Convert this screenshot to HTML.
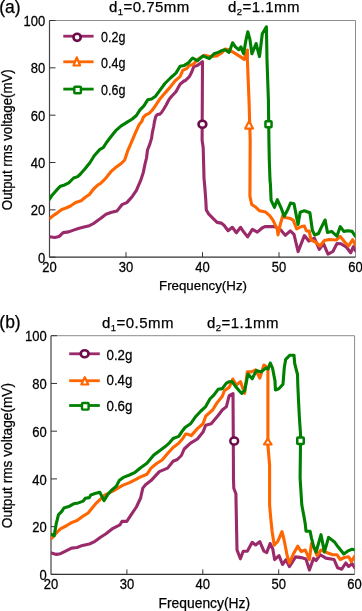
<!DOCTYPE html>
<html><head><meta charset="utf-8"><style>
html,body{margin:0;padding:0;background:#fff;}
svg{display:block;will-change:transform;}
text{font-family:"Liberation Sans",sans-serif;fill:#000;stroke:#000;stroke-width:0.25px;}
.t{font-size:13px;}
.lg{font-size:13.6px;}
.ti{font-size:15px;letter-spacing:0.45px;}
.sub{font-size:9.5px;}
.pl{font-size:17.5px;}
.ax{font-size:13.3px;}
</style></head><body>
<svg width="362" height="611" viewBox="0 0 362 611">
<defs><filter id="soft" x="-5%" y="-5%" width="110%" height="110%"><feGaussianBlur stdDeviation="0.4"/></filter><filter id="soft2" x="-20%" y="-20%" width="140%" height="140%"><feGaussianBlur stdDeviation="0.3"/></filter></defs>
<defs><clipPath id="clip20"><rect x="49.5" y="20.5" width="306.00" height="236.70"/></clipPath></defs>
<line x1="49.5" y1="20.5" x2="355.5" y2="20.5" stroke="#8c8c8c" stroke-width="1"/>
<line x1="355.5" y1="20.5" x2="355.5" y2="257.2" stroke="#8c8c8c" stroke-width="1"/>
<line x1="49.5" y1="20.5" x2="49.5" y2="257.2" stroke="#444" stroke-width="1.2"/>
<line x1="49.5" y1="257.2" x2="355.5" y2="257.2" stroke="#333" stroke-width="1.2"/>
<line x1="49.5" y1="257.20" x2="55.5" y2="257.20" stroke="#333" stroke-width="1"/>
<text transform="translate(45.2,262.80) scale(1,1.07)" text-anchor="end" class="t">0</text>
<line x1="49.5" y1="209.86" x2="55.5" y2="209.86" stroke="#333" stroke-width="1"/>
<text transform="translate(45.2,215.46) scale(1,1.07)" text-anchor="end" class="t">20</text>
<line x1="49.5" y1="162.52" x2="55.5" y2="162.52" stroke="#333" stroke-width="1"/>
<text transform="translate(45.2,168.12) scale(1,1.07)" text-anchor="end" class="t">40</text>
<line x1="49.5" y1="115.18" x2="55.5" y2="115.18" stroke="#333" stroke-width="1"/>
<text transform="translate(45.2,120.78) scale(1,1.07)" text-anchor="end" class="t">60</text>
<line x1="49.5" y1="67.84" x2="55.5" y2="67.84" stroke="#333" stroke-width="1"/>
<text transform="translate(45.2,73.44) scale(1,1.07)" text-anchor="end" class="t">80</text>
<line x1="49.5" y1="20.50" x2="55.5" y2="20.50" stroke="#333" stroke-width="1"/>
<text transform="translate(45.2,26.10) scale(1,1.07)" text-anchor="end" class="t">100</text>
<text transform="translate(49.50,272.00) scale(1,1.07)" text-anchor="middle" class="t">20</text>
<line x1="126.00" y1="257.2" x2="126.00" y2="252.2" stroke="#333" stroke-width="1"/>
<text transform="translate(126.00,272.00) scale(1,1.07)" text-anchor="middle" class="t">30</text>
<line x1="202.50" y1="257.2" x2="202.50" y2="252.2" stroke="#333" stroke-width="1"/>
<text transform="translate(202.50,272.00) scale(1,1.07)" text-anchor="middle" class="t">40</text>
<line x1="279.00" y1="257.2" x2="279.00" y2="252.2" stroke="#333" stroke-width="1"/>
<text transform="translate(279.00,272.00) scale(1,1.07)" text-anchor="middle" class="t">50</text>
<text transform="translate(355.50,272.00) scale(1,1.07)" text-anchor="middle" class="t">60</text>
<g clip-path="url(#clip20)"><g filter="url(#soft)" fill="none" stroke-width="3.1" stroke-linejoin="round" stroke-linecap="round">
<polyline points="49.4,236.8 54.9,237.5 59.0,236.5 63.2,232.6 68.7,231.9 74.2,229.9 78.4,228.5 83.9,227.1 89.4,225.7 93.6,223.5 98.0,220.2 100.5,218.5 106.0,214.3 111.6,212.3 117.1,210.9 121.9,204.7 126.8,202.6 129.5,199.6 132.3,196.4 136.4,190.4 140.6,180.7 143.3,172.4 145.0,164.1 146.5,158.0 147.5,150.0 149.9,143.9 151.6,138.1 152.4,132.3 153.7,126.5 154.5,121.6 155.7,116.6 157.4,114.5 159.9,114.1 161.5,112.5 163.8,109.0 166.3,104.8 169.0,99.5 171.9,96.0 175.9,91.8 180.1,84.2 184.2,80.7 185.0,80.9 189.4,76.6 191.6,72.2 193.8,66.6 197.2,65.5 200.5,63.3 202.5,61.7 202.1,140.0 203.2,147.7 203.8,170.0 204.0,178.3 204.9,188.0 205.8,200.4 206.3,210.0 208.8,214.1 213.0,218.3 217.1,222.4 221.2,223.1 224.0,225.2 228.1,230.7 232.3,227.3 236.4,232.8 240.6,227.3 242.8,230.7 247.6,236.9 252.4,229.3 257.3,232.1 262.1,228.0 264.9,226.6 274.5,226.6 280.1,229.3 285.3,235.3 290.3,230.8 294.0,234.3 298.1,251.6 304.4,235.6 308.8,241.0 314.4,238.2 319.3,249.3 323.5,243.7 328.0,254.2 332.9,251.5 337.0,243.5 341.0,243.8 346.5,247.3 350.7,252.8 353.4,246.6 355.5,250.7" stroke="#9b2c6b"/>
<polyline points="49.4,218.8 53.5,215.4 57.7,212.6 61.8,209.5 66.0,208.0 70.5,206.0 75.6,202.5 81.1,200.7 85.3,197.3 89.4,194.5 93.6,189.0 98.0,184.9 100.5,183.5 105.4,178.6 110.9,171.7 116.4,166.9 121.2,163.5 124.7,160.0 127.5,151.4 131.6,141.8 135.7,132.1 139.2,124.5 141.7,121.6 143.3,117.4 145.8,114.9 149.1,113.3 152.4,110.0 155.3,105.8 159.3,99.8 164.9,93.1 170.4,86.9 175.2,80.7 180.1,76.6 182.8,70.4 187.0,68.3 189.1,65.6 193.3,64.2 198.8,58.6 204.3,55.2 209.9,56.6 216.8,55.9 222.3,52.4 225.0,49.0 229.1,49.7 234.7,53.1 240.2,56.6 244.3,59.4 247.4,50.0 247.4,60.0 249.0,100.0 250.2,140.0 249.9,196.2 251.7,204.5 255.9,207.3 259.3,210.7 265.6,212.1 269.7,215.6 273.1,220.4 277.3,229.3 278.0,234.9 280.1,225.2 282.8,215.5 285.0,217.5 290.5,218.5 293.3,220.4 296.7,229.0 301.5,226.5 304.4,226.0 306.4,231.0 309.2,231.0 311.0,240.0 315.5,242.0 320.0,246.0 324.4,240.5 329.0,239.5 336.2,240.0 340.3,236.5 345.1,242.5 348.6,245.9 352.7,239.7 355.5,245.2" stroke="#ff6600"/>
<polyline points="49.4,199.4 52.1,195.2 56.3,190.4 60.4,186.2 64.6,184.9 68.7,182.8 73.6,178.0 77.7,176.6 80.0,174.5 84.4,169.5 89.7,163.0 94.4,155.5 99.9,149.4 103.2,147.7 106.5,142.5 110.5,137.2 115.7,130.7 121.2,125.9 126.8,122.4 132.3,119.0 136.4,115.5 140.0,109.8 143.9,105.8 147.7,99.8 151.6,98.9 155.5,96.2 159.3,91.1 164.9,83.5 170.4,78.0 175.9,73.1 180.1,66.2 184.2,65.5 185.0,64.9 188.5,62.8 192.6,58.0 197.4,60.7 203.0,55.9 209.2,58.6 214.0,53.8 218.1,52.4 222.3,50.4 225.0,49.7 229.1,52.5 232.6,42.8 235.4,46.9 238.8,49.7 240.9,46.9 243.6,53.8 245.7,41.4 247.8,31.7 249.9,39.3 251.9,53.8 256.1,43.5 259.5,56.6 262.3,33.8 266.4,26.9 267.0,60.0 268.4,100.0 268.9,140.0 269.3,160.0 270.0,180.0 270.4,183.8 271.1,200.4 274.5,207.3 277.3,199.7 281.4,208.7 284.2,216.3 287.8,209.5 290.5,203.1 294.0,203.8 296.7,217.6 298.1,224.5 300.2,212.1 304.3,210.7 309.9,212.8 312.4,230.5 314.7,235.0 318.5,233.5 321.2,227.6 325.1,220.0 327.5,232.5 331.6,231.4 336.9,236.2 340.3,226.6 343.8,231.4 347.9,230.7 352.1,231.4 355.5,236.5" stroke="#008000"/>
</g></g>
<g filter="url(#soft2)">
<ellipse cx="202.4" cy="124.3" rx="3.9" ry="3.5" fill="#fff" stroke="#6c0a48" stroke-width="2.6"/>
<polygon points="249.1,121.0 253.0,128.6 245.2,128.6" fill="#fff" stroke="#ff6600" stroke-width="2.1" stroke-linejoin="round"/>
<rect x="265.45" y="121.15" width="6.1" height="6.1" rx="0.8" fill="#fff" stroke="#008000" stroke-width="2.5"/>
</g>
<g filter="url(#soft2)"><line x1="63.3" y1="36.2" x2="93.6" y2="36.2" stroke="#9b2c6b" stroke-width="2.8"/>
<ellipse cx="77.1" cy="37.3" rx="3.6" ry="3.6" fill="#fff" stroke="#6c0a48" stroke-width="2.6"/></g>
<text transform="translate(101,41.6) scale(0.92,1.07)" class="lg">0.2g</text>
<g filter="url(#soft2)"><line x1="63.3" y1="61.8" x2="93.6" y2="61.8" stroke="#ff6600" stroke-width="2.8"/>
<polygon points="76.8,57.3 80.1,65.5 73.5,65.5" fill="#fff" stroke="#ff6600" stroke-width="2.2" stroke-linejoin="round"/></g>
<text transform="translate(101,67.5) scale(0.92,1.07)" class="lg">0.4g</text>
<g filter="url(#soft2)"><line x1="63.3" y1="89.1" x2="93.6" y2="89.1" stroke="#008000" stroke-width="2.8"/>
<rect x="74.30" y="86.70" width="6.6" height="6.6" rx="0.8" fill="#fff" stroke="#008000" stroke-width="2.4"/></g>
<text transform="translate(101,94.6) scale(0.92,1.07)" class="lg">0.6g</text>
<text x="109" y="11.8" class="ti">d<tspan class="sub" dy="2.8">1</tspan><tspan dy="-2.8">=0.75mm</tspan></text>
<text x="228" y="11.8" class="ti">d<tspan class="sub" dy="2.8">2</tspan><tspan dy="-2.8">=1.1mm</tspan></text>
<text x="-0.8" y="12.6" class="pl">(a)</text>
<text x="203.0" y="290.2" text-anchor="middle" style="font-size:13.3px">Frequency(Hz)</text>
<text transform="translate(11.7,139.7) rotate(-90) scale(1,1.06)" text-anchor="middle" style="font-size:13.3px">Output rms voltage(mV)</text>
<defs><clipPath id="clip335"><rect x="51" y="335.7" width="303.60" height="238.70"/></clipPath></defs>
<line x1="51" y1="335.7" x2="354.6" y2="335.7" stroke="#8c8c8c" stroke-width="1"/>
<line x1="354.6" y1="335.7" x2="354.6" y2="574.4" stroke="#8c8c8c" stroke-width="1"/>
<line x1="51" y1="335.7" x2="51" y2="574.4" stroke="#444" stroke-width="1.2"/>
<line x1="51" y1="574.4" x2="354.6" y2="574.4" stroke="#333" stroke-width="1.2"/>
<line x1="51" y1="574.40" x2="57" y2="574.40" stroke="#333" stroke-width="1"/>
<text transform="translate(46.7,580.00) scale(1,1.07)" text-anchor="end" class="t">0</text>
<line x1="51" y1="526.66" x2="57" y2="526.66" stroke="#333" stroke-width="1"/>
<text transform="translate(46.7,532.26) scale(1,1.07)" text-anchor="end" class="t">20</text>
<line x1="51" y1="478.92" x2="57" y2="478.92" stroke="#333" stroke-width="1"/>
<text transform="translate(46.7,484.52) scale(1,1.07)" text-anchor="end" class="t">40</text>
<line x1="51" y1="431.18" x2="57" y2="431.18" stroke="#333" stroke-width="1"/>
<text transform="translate(46.7,436.78) scale(1,1.07)" text-anchor="end" class="t">60</text>
<line x1="51" y1="383.44" x2="57" y2="383.44" stroke="#333" stroke-width="1"/>
<text transform="translate(46.7,389.04) scale(1,1.07)" text-anchor="end" class="t">80</text>
<line x1="51" y1="335.70" x2="57" y2="335.70" stroke="#333" stroke-width="1"/>
<text transform="translate(46.7,341.30) scale(1,1.07)" text-anchor="end" class="t">100</text>
<text transform="translate(51.00,589.20) scale(1,1.07)" text-anchor="middle" class="t">20</text>
<line x1="126.90" y1="574.4" x2="126.90" y2="569.4" stroke="#333" stroke-width="1"/>
<text transform="translate(126.90,589.20) scale(1,1.07)" text-anchor="middle" class="t">30</text>
<line x1="202.80" y1="574.4" x2="202.80" y2="569.4" stroke="#333" stroke-width="1"/>
<text transform="translate(202.80,589.20) scale(1,1.07)" text-anchor="middle" class="t">40</text>
<line x1="278.70" y1="574.4" x2="278.70" y2="569.4" stroke="#333" stroke-width="1"/>
<text transform="translate(278.70,589.20) scale(1,1.07)" text-anchor="middle" class="t">50</text>
<text transform="translate(354.60,589.20) scale(1,1.07)" text-anchor="middle" class="t">60</text>
<g clip-path="url(#clip335)"><g filter="url(#soft)" fill="none" stroke-width="3.1" stroke-linejoin="round" stroke-linecap="round">
<polyline points="51.5,553.0 56.3,554.4 60.4,553.7 64.6,551.6 71.5,548.1 77.0,547.5 82.5,545.4 89.4,544.0 95.0,541.3 100.5,537.3 106.0,533.8 113.0,528.3 119.9,524.9 121.9,521.4 126.8,521.4 130.9,515.2 136.4,507.0 140.6,498.0 142.8,488.1 145.5,484.7 151.0,480.6 159.3,471.6 167.6,468.1 173.1,461.2 177.3,459.5 181.4,455.5 184.2,449.0 190.5,443.1 197.4,439.0 203.0,432.1 205.7,425.2 211.2,423.8 218.1,415.5 222.3,410.0 226.4,406.6 229.2,395.6 233.0,393.5 233.3,441.0 233.5,480.0 233.8,488.3 235.9,493.8 236.6,530.0 237.0,549.9 240.4,558.8 243.2,551.2 247.3,551.2 252.2,542.3 255.6,545.0 259.8,541.6 263.9,551.2 266.7,552.6 270.1,543.5 272.8,549.0 274.6,559.6 279.0,555.6 282.5,564.5 286.0,559.7 289.4,566.6 295.6,556.9 301.1,557.6 306.0,559.0 309.4,570.1 313.6,558.3 316.1,560.5 320.3,554.7 325.8,558.1 334.1,559.5 337.6,567.8 341.7,569.2 345.8,563.0 348.6,566.4 352.1,563.7 354.8,567.8" stroke="#9b2c6b"/>
<polyline points="51.5,538.5 56.3,533.0 60.4,528.8 66.0,526.0 71.5,522.6 77.0,520.5 82.5,516.5 88.1,513.0 92.2,508.0 96.3,503.1 100.5,499.2 104.7,495.1 110.2,492.3 115.7,489.5 122.6,485.4 129.5,482.6 136.4,479.2 140.0,477.1 146.9,474.3 151.0,468.1 156.6,463.5 162.1,460.0 167.6,453.5 173.1,447.5 178.7,443.3 182.8,438.5 185.6,434.0 188.3,434.3 191.2,435.6 197.4,428.6 203.0,423.8 205.7,416.2 212.6,410.0 216.8,403.1 222.3,396.2 224.4,390.7 229.2,387.3 232.8,379.0 236.3,385.1 240.4,381.6 244.6,393.3 247.3,371.9 251.5,371.9 255.6,369.9 259.8,378.1 263.9,365.0 267.9,367.8 267.9,445.0 269.6,465.0 269.6,505.0 270.8,518.8 272.1,531.2 274.2,545.1 277.7,541.5 282.0,531.6 283.9,539.0 287.3,556.2 289.4,563.1 293.6,553.5 297.7,546.2 301.1,551.5 305.3,550.0 309.4,559.5 311.5,543.5 314.2,548.0 317.0,555.5 321.0,550.0 327.9,553.0 332.7,554.7 336.9,554.7 340.3,559.5 344.5,557.5 348.6,556.8 351.4,561.6 354.8,556.1" stroke="#ff6600"/>
<polyline points="51.5,534.3 54.2,535.7 56.3,523.3 57.7,518.0 58.4,514.9 61.8,511.4 63.9,508.0 68.7,506.6 73.6,503.8 78.4,502.9 83.2,501.1 85.3,498.3 89.4,497.6 90.8,494.9 95.0,493.6 99.8,492.3 101.9,496.4 104.0,500.6 107.4,495.1 111.6,490.2 116.4,486.1 119.2,480.6 124.0,477.1 129.5,475.0 135.1,472.3 140.3,468.0 146.9,463.3 153.8,455.0 159.3,450.9 164.9,446.8 169.7,442.6 173.1,438.5 178.7,436.4 181.4,432.3 185.0,427.5 190.5,423.8 196.0,416.2 200.9,411.0 205.7,406.6 209.9,399.0 214.0,394.9 218.1,389.3 222.3,388.6 226.4,383.1 229.2,381.7 232.1,381.6 235.6,386.4 239.0,390.6 241.8,393.3 244.6,390.6 248.0,374.0 252.2,378.8 256.3,370.6 261.1,371.9 266.0,368.0 268.1,369.0 270.3,363.0 272.5,368.0 275.0,380.9 275.4,390.0 278.8,388.8 283.0,384.2 284.3,367.6 285.7,359.3 289.9,355.2 294.0,355.2 294.7,363.5 297.5,374.5 297.8,385.0 298.5,400.0 299.4,418.0 300.6,435.0 300.1,478.0 301.8,505.0 303.9,516.0 305.3,524.3 306.0,531.2 310.1,531.2 311.5,538.1 313.6,546.4 316.1,552.0 321.0,534.7 324.4,551.9 328.6,537.4 334.8,542.3 338.2,547.1 343.8,554.0 348.6,550.6 352.1,549.2 355.5,549.9" stroke="#008000"/>
</g></g>
<g filter="url(#soft2)">
<ellipse cx="234.2" cy="441" rx="3.9" ry="3.6" fill="#fff" stroke="#6c0a48" stroke-width="2.5"/>
<polygon points="267.8,438.7 271.6,444.5 264.0,444.5" fill="#fff" stroke="#ff6600" stroke-width="2.1" stroke-linejoin="round"/>
<rect x="297.25" y="437.55" width="6.5" height="6.5" rx="0.8" fill="#fff" stroke="#008000" stroke-width="2.5"/>
</g>
<g filter="url(#soft2)"><line x1="69.2" y1="353.8" x2="99.8" y2="353.8" stroke="#9b2c6b" stroke-width="2.8"/>
<ellipse cx="84.65" cy="353.8" rx="3.9" ry="3.5" fill="#fff" stroke="#6c0a48" stroke-width="2.6"/></g>
<text transform="translate(106.5,359.6) scale(0.98,1.12)" class="lg">0.2g</text>
<g filter="url(#soft2)"><line x1="69.2" y1="380.7" x2="99.8" y2="380.7" stroke="#ff6600" stroke-width="2.8"/>
<polygon points="84.8,377.2 88.3,384.5 81.3,384.5" fill="#fff" stroke="#ff6600" stroke-width="2.2" stroke-linejoin="round"/></g>
<text transform="translate(106.5,385.4) scale(0.98,1.12)" class="lg">0.4g</text>
<g filter="url(#soft2)"><line x1="69.2" y1="405.5" x2="99.8" y2="405.5" stroke="#008000" stroke-width="2.8"/>
<rect x="82.00" y="403.00" width="6.6" height="6.6" rx="0.8" fill="#fff" stroke="#008000" stroke-width="2.4"/></g>
<text transform="translate(106.5,410.5) scale(0.98,1.12)" class="lg">0.6g</text>
<text x="102" y="328.1" class="ti">d<tspan class="sub" dy="2.8">1</tspan><tspan dy="-2.8">=0.5mm</tspan></text>
<text x="207" y="328.1" class="ti">d<tspan class="sub" dy="2.8">2</tspan><tspan dy="-2.8">=1.1mm</tspan></text>
<text x="-0.7" y="327.9" class="pl">(b)</text>
<text x="204.3" y="607.9" text-anchor="middle" style="font-size:13.85px">Frequency(Hz)</text>
<text transform="translate(11.9,455.6) rotate(-90) scale(1,1.12)" text-anchor="middle" style="font-size:13.7px">Output rms voltage(mV)</text>
</svg></body></html>
